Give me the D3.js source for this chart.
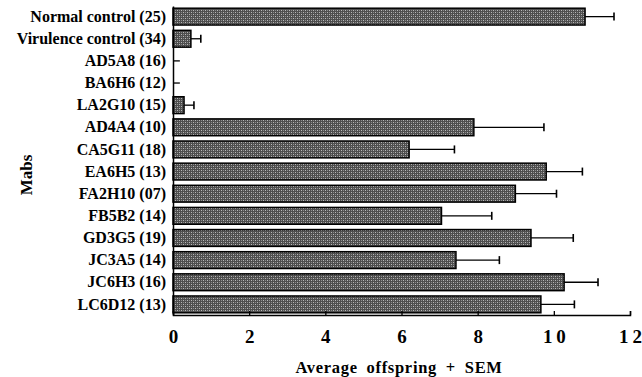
<!DOCTYPE html>
<html>
<head>
<meta charset="utf-8">
<script src="https://cdn.jsdelivr.net/npm/d3@7"></script>
<style>
  body { margin: 0; background: #fff; }
  svg text { font-family: 'Liberation Serif', 'Times New Roman', serif; font-weight: bold; fill: #000; }
</style>
</head>
<body>
<div id="chart"></div>
<script>
// Mab groups (n in brackets), mean offspring and mean + SEM
const categories = ['Normal control (25)', 'Virulence control (34)', 'AD5A8 (16)', 'BA6H6 (12)',
  'LA2G10 (15)', 'AD4A4 (10)', 'CA5G11 (18)', 'EA6H5 (13)', 'FA2H10 (07)', 'FB5B2 (14)',
  'GD3G5 (19)', 'JC3A5 (14)', 'JC6H3 (16)', 'LC6D12 (13)'];
const means = [10.82, 0.47, 0, 0, 0.29, 7.9, 6.2, 9.8, 8.99, 7.05, 9.4, 7.43, 10.27, 9.66];
const upper = [11.58, 0.73, 0.18, 0.18, 0.55, 9.74, 7.39, 10.75, 10.07, 8.37, 10.51, 8.57, 11.16, 10.54];
const xTicks = [0, 2, 4, 6, 8, 10, 12];

(function () {
  'use strict';
  const W = 642, H = 377;
  const margin = { top: 6, right: 11, bottom: 62, left: 173 };
  const innerW = W - margin.left - margin.right;
  const innerH = H - margin.top - margin.bottom;

  const svg = d3.select('#chart').append('svg').attr('width', W).attr('height', H);

  // stippled grey fill, roughly like the scanned bars
  const defs = svg.append('defs');
  const pat = defs.append('pattern').attr('id', 'stip').attr('patternUnits', 'userSpaceOnUse')
    .attr('width', 4).attr('height', 4);
  pat.append('rect').attr('width', 4).attr('height', 4).attr('fill', '#4e4e4e');
  pat.append('rect').attr('x', 0).attr('y', 0).attr('width', 1).attr('height', 1).attr('fill', '#b8b8b8');
  pat.append('rect').attr('x', 2).attr('y', 2).attr('width', 1).attr('height', 1).attr('fill', '#b8b8b8');
  pat.append('rect').attr('x', 2).attr('y', 0).attr('width', 1).attr('height', 1).attr('fill', '#8a8a8a');
  pat.append('rect').attr('x', 0).attr('y', 2).attr('width', 1).attr('height', 1).attr('fill', '#8a8a8a');

  const g = svg.append('g').attr('transform', `translate(${margin.left},${margin.top})`);

  const x = d3.scaleLinear().domain([0, 12]).range([0, innerW - 1]);
  const y = d3.scaleBand().domain(categories).range([0, innerH]).paddingInner(0.24).paddingOuter(0.1);

  const rows = categories.map((c, i) => ({ c, m: means[i], u: upper[i] }));

  // error bars (drawn first, cap on the right)
  const eb = g.selectAll('.eb').data(rows).enter().append('g');
  eb.append('line')
    .attr('x1', d => x(d.m)).attr('x2', d => x(d.u))
    .attr('y1', d => y(d.c) + y.bandwidth() / 2).attr('y2', d => y(d.c) + y.bandwidth() / 2)
    .attr('stroke', '#000').attr('stroke-width', 1.3);
  eb.filter(d => d.m > 0).append('line')
    .attr('x1', d => x(d.u)).attr('x2', d => x(d.u))
    .attr('y1', d => y(d.c) + y.bandwidth() / 2 - 4).attr('y2', d => y(d.c) + y.bandwidth() / 2 + 4)
    .attr('stroke', '#000').attr('stroke-width', 1.6);

  // bars
  g.selectAll('.bar').data(rows.filter(d => d.m > 0)).enter().append('rect')
    .attr('x', 0).attr('y', d => y(d.c))
    .attr('width', d => x(d.m)).attr('height', y.bandwidth())
    .attr('fill', 'url(#stip)').attr('stroke', '#000').attr('stroke-width', 1.5);

  // axes
  const xAxis = d3.axisBottom(x).tickValues(xTicks).tickSize(-4).tickPadding(15)
    .tickFormat(d => d >= 10 ? String(d).split('').join('\u2009') : d);
  const gx = g.append('g').attr('transform', `translate(0,${innerH})`).call(xAxis);
  gx.select('.domain').attr('stroke', '#000').attr('stroke-width', 1.5);
  gx.selectAll('.tick line').attr('stroke', '#000').attr('stroke-width', 1.3);
  gx.selectAll('.tick text').attr('font-size', null).style('font-size', '19px');

  const yAxis = d3.axisLeft(y).tickSize(0).tickPadding(7);
  const gy = g.append('g').call(yAxis);
  gy.select('.domain').attr('stroke', '#000').attr('stroke-width', 1.5);
  gy.selectAll('.tick text').style('font-size', '16px');

  // titles
  svg.append('text').attr('x', 399).attr('y', 373)
    .attr('text-anchor', 'middle').style('font-size', '16.5px').style('word-spacing', '4px')
    .style('letter-spacing', '0.7px').text('Average offspring + SEM');
  svg.append('text').attr('transform', `translate(32,175) rotate(-90)`)
    .attr('text-anchor', 'middle').style('font-size', '17px').text('Mabs');
})();
</script>
</body>
</html>
